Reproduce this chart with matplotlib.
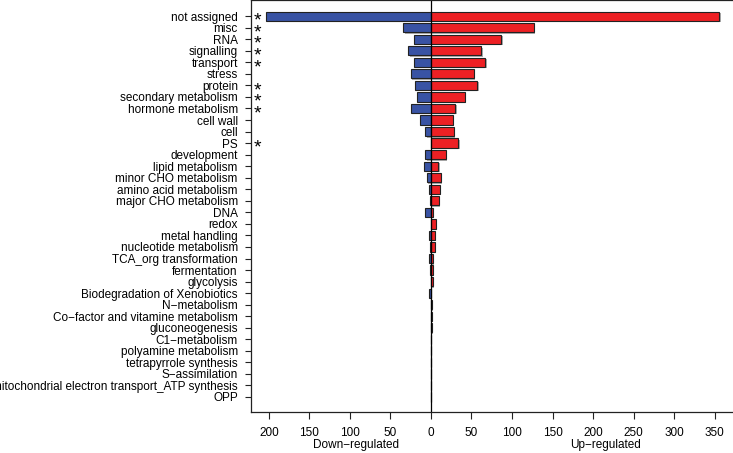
import numpy as np
import matplotlib.pyplot as plt
import matplotlib.patheffects as pe
from matplotlib.ticker import FuncFormatter

plt.rcParams['font.family'] = ['Liberation Sans', 'DejaVu Sans']

categories = ['not assigned', 'misc', 'RNA', 'signalling', 'transport', 'stress',
              'protein', 'secondary metabolism', 'hormone metabolism', 'cell wall',
              'cell', 'PS', 'development', 'lipid metabolism', 'minor CHO metabolism',
              'amino acid metabolism', 'major CHO metabolism', 'DNA', 'redox',
              'metal handling', 'nucleotide metabolism', 'TCA_org transformation',
              'fermentation', 'glycolysis', 'Biodegradation of Xenobiotics',
              'N\u2212metabolism', 'Co\u2212factor and vitamine metabolism',
              'gluconeogenesis', 'C1\u2212metabolism', 'polyamine metabolism',
              'tetrapyrrole synthesis', 'S\u2212assimilation',
              'mitochondrial electron transport_ATP synthesis', 'OPP']
up = [356, 127, 87, 62, 67, 53, 57, 42, 30, 27, 28, 34, 18, 9, 12, 11, 10, 2, 6, 5,
      5, 2, 2, 2, 0, 1, 1, 1, 0, 0, 0, 0, 0, 0]
down = [203, 34, 21, 28, 21, 25, 20, 17, 25, 14, 7, 0, 7, 8, 5, 3, 1, 7, 0, 2,
        1, 2, 1, 0, 2.5, 0.5, 0, 0, 0, 0, 0, 0, 0, 0]
significant = ['not assigned', 'misc', 'RNA', 'signalling', 'transport', 'protein',
               'secondary metabolism', 'hormone metabolism', 'PS']

fig = plt.figure(figsize=(7.33, 4.53), dpi=100)
ax = fig.add_axes([251 / 733, 41 / 453, 492 / 733, 412 / 453])

y = np.arange(len(categories))
shadow = [pe.SimplePatchShadow(offset=(1, -1), shadow_rgbFace='#888888', alpha=0.7), pe.Normal()]
ax.barh(y, -np.array(down), height=0.8, color='#3953a4', edgecolor='#222222',
        linewidth=0.8, path_effects=shadow)
ax.barh(y, up, height=0.8, color='#ed2024', edgecolor='#222222',
        linewidth=0.8, path_effects=shadow)
ax.axvline(0, color='black', linewidth=0.9)

ax.set_xlim(-222, 385)
ax.set_ylim(34.3, -1.4)
ax.set_yticks(y)
ax.set_yticklabels(categories, fontsize=8.5)
ax.set_xticks(np.arange(-200, 351, 50))
ax.xaxis.set_major_formatter(FuncFormatter(lambda v, p: '%d' % abs(v)))
ax.tick_params(axis='x', labelsize=8.5, length=5, width=0.8, pad=6, colors='#222222')
ax.tick_params(axis='y', length=4.5, width=0.8, pad=5, colors='#222222')
for lab in ax.get_xticklabels() + ax.get_yticklabels():
    lab.set_color('black')
for s in ax.spines.values():
    s.set_linewidth(0.9)
    s.set_color('#222222')

# stars marking significant categories
for i, c in enumerate(categories):
    if c in significant:
        ax.text(-213.5, i + 0.45, '*', fontsize=14, ha='center', va='center')

ax.text(-92, -0.08, 'Down\u2212regulated', transform=ax.get_xaxis_transform(),
        ha='center', va='center', fontsize=8.5)
ax.text(215, -0.08, 'Up\u2212regulated', transform=ax.get_xaxis_transform(),
        ha='center', va='center', fontsize=8.5)

fig.savefig('out.png', dpi=100)
